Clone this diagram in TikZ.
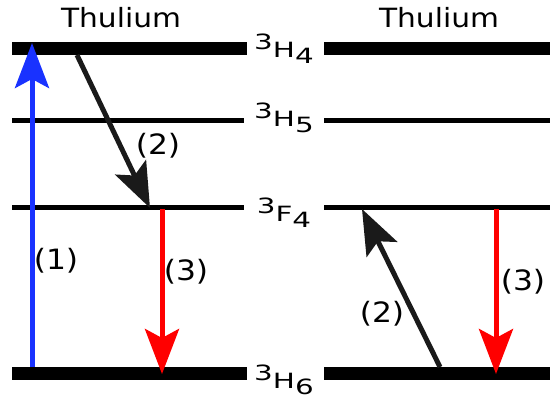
\documentclass[tikz,border=0pt]{standalone}
\usepackage{fontspec}
\setmainfont[FakeStretch=1.12]{DejaVu Sans}
\newfontfamily\termfont[FakeStretch=1.4]{DejaVu Sans}
\usetikzlibrary{arrows.meta}
\definecolor{pumpblue}{RGB}{25,50,255}
\definecolor{decaygray}{RGB}{26,26,26}
\newcommand{\lvlname}[3]{\raisebox{0.4em}{#1}#2\raisebox{-0.25em}{#3}}

\begin{document}
\begin{tikzpicture}[x=1pt, y=-1pt,
  thicklevel/.style={line width=13pt},
  thinlevel/.style={line width=4.5pt},
  term/.style={anchor=base, inner sep=0pt, font=\termfont\fontsize{21}{26}\selectfont},
  atom/.style={anchor=base, inner sep=0pt, font=\fontsize{26.5}{32}\selectfont},
  num/.style={inner sep=0pt, font=\fontsize{28}{32}\selectfont},
  trans/.style={-{Stealth[length=45pt, width=34pt, inset=9pt]}, line width=5pt}
]
  \useasboundingbox (0,0) rectangle (550,398);

  % Energy levels, left and right panels
  \draw[thicklevel] (12,49) -- (247,49);
  \draw[thinlevel] (12,120.5) -- (244,120.5);
  \draw[thinlevel] (12,207.5) -- (244,207.5);
  \draw[thicklevel] (12,374) -- (247,374);
  \draw[thicklevel] (324,49) -- (550,49);
  \draw[thinlevel] (324,120.5) -- (550,120.5);
  \draw[thinlevel] (324,207.5) -- (550,207.5);
  \draw[thicklevel] (324,374) -- (550,374);

  % Titles and term symbols
  \node[atom] (tmleft) at (121,28) {Thulium};
  \node[atom] (tmright) at (439,28) {Thulium};
  \node[term] (h4) at (284,58) {\lvlname{3}{H}{4}};
  \node[term] (h5) at (284,127) {\lvlname{3}{H}{5}};
  \node[term] (f4) at (284,222) {\lvlname{3}{F}{4}};
  \node[term] (h6) at (284,389) {\lvlname{3}{H}{6}};

  % End points of the transitions
  \coordinate (pumpfrom) at (32,367);
  \coordinate (pumpto) at (32,43);
  \coordinate (relaxfrom) at (77,55);
  \coordinate (relaxto) at (150,208);
  \coordinate (emitfrom) at (162,209);
  \coordinate (emitto) at (162,374);
  \coordinate (upfrom) at (440,367);
  \coordinate (upto) at (362,209);
  \coordinate (emit2from) at (496,209);
  \coordinate (emit2to) at (496,374);

  % Transitions
  \draw[trans, pumpblue] (pumpfrom) -- (pumpto);
  \draw[trans, decaygray] (relaxfrom) -- (relaxto);
  \draw[trans, red] (emitfrom) -- (emitto);
  \draw[trans, decaygray] (upfrom) -- (upto);
  \draw[trans, red] (emit2from) -- (emit2to);

  % Transition labels
  \node[num] (lone) at (56,261) {(1)};
  \node[num] (ltwo) at (158,146) {(2)};
  \node[num] (lthree) at (186,272) {(3)};
  \node[num] (rtwo) at (382,314) {(2)};
  \node[num] (rthree) at (523,282) {(3)};
\end{tikzpicture}
\end{document}
